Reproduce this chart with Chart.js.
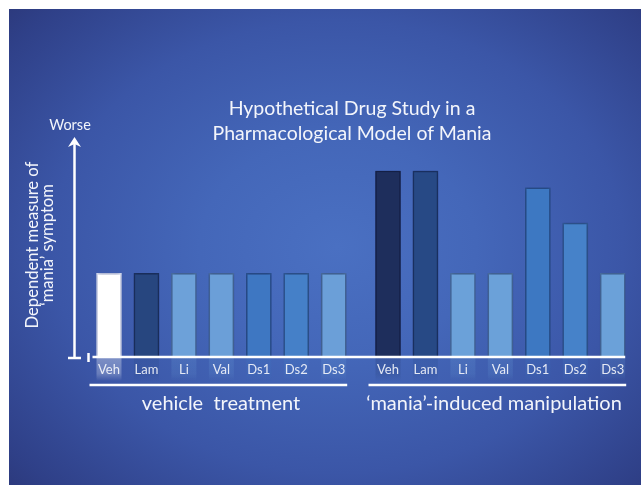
<!DOCTYPE html>
<html>
<head>
<meta charset="utf-8">
<script src="https://cdn.jsdelivr.net/npm/chart.js@4"></script>
<style>
  html, body { margin: 0; padding: 0; background: #ffffff; }
  body { width: 641px; height: 485px; position: relative; overflow: hidden; font-family: Lato, "Open Sans", sans-serif; }
  #slide {
    position: absolute; left: 9px; top: 9px; width: 632px; height: 476px;
    background: radial-gradient(ellipse 78% 82% at 52% 50%, #4a70c2 0%, #4467b9 28%, #3b56a7 58%, #2f4088 84%, #28316e 100%);
  }
  #chart { position: absolute; left: 0; top: 0; }
  .txt { position: absolute; color: #f3f5fb; white-space: pre; text-align: center; }
  #title { left: 152px; width: 400px; top: 95px; font-size: 19.5px; line-height: 25px; }
  #worse { left: 40px; width: 60px; top: 117px; font-size: 14.5px; line-height: 16px; }
  #ylab { left: 40px; top: 245px; width: 200px; font-size: 16.6px; line-height: 15px;
          transform: translate(-100px, -15px) rotate(-90deg); transform-origin: 100px 15px; }
  #g1 { left: 121px; width: 200px; top: 391px; font-size: 20px; line-height: 22px; }
  #g2 { left: 344px; width: 300px; top: 391px; font-size: 20px; line-height: 22px; }
</style>
</head>
<body>
<div id="slide"></div>
<canvas id="chart" width="641" height="485"></canvas>
<div class="txt" id="title">Hypothetical Drug Study in a
Pharmacological Model of Mania</div>
<div class="txt" id="worse">Worse</div>
<div class="txt" id="ylab">Dependent measure of
‘mania’ symptom</div>
<div class="txt" id="g1"></div>
<div class="txt" id="g2"></div>
<script>
// Treatments shown in each group
const categories = ['Veh', 'Lam', 'Li', 'Val', 'Ds1', 'Ds2', 'Ds3'];
const groupNames = ['vehicle  treatment', '‘mania’-induced manipulation'];

// Symptom score (arbitrary units, higher = worse)
const vehicleValues = [45, 45, 45, 45, 45, 45, 45];
const maniaValues   = [100, 100, 45, 45, 91, 72, 45];

// Fill colours per treatment
const vehicleColors = ['#ffffff', '#27467f', '#6da1d9', '#6b9fd8', '#3e77c2', '#4580c8', '#6b9fd8'];
const maniaColors   = ['#1e2e5c', '#274985', '#6ba1d9', '#6ba1d9', '#3d78c2', '#4682c9', '#6ba1d9'];

document.getElementById('g1').textContent = groupNames[0];
document.getElementById('g2').textContent = groupNames[1];

// Second group sits a little further right than a single slot
const GROUP_STEP = categories.length + 0.45;
const xPos = (g, i) => i + g * GROUP_STEP;

const allX = [];
const allLabels = [];
[0, 1].forEach(g => categories.forEach((c, i) => { allX.push(xPos(g, i)); allLabels.push(c); }));

function hexToRgb(h) {
  const n = parseInt(h.slice(1), 16);
  return [(n >> 16) & 255, (n >> 8) & 255, n & 255];
}
function rgba(h, a) { const [r, g, b] = hexToRgb(h); return `rgba(${r},${g},${b},${a})`; }
function edge(h) {
  if (h.toLowerCase() === '#ffffff') return 'rgba(235,240,255,0.9)';
  const [r, g, b] = hexToRgb(h);
  return `rgb(${Math.round(r * 0.7)},${Math.round(g * 0.7)},${Math.round(b * 0.75)})`;
}

const decor = {
  id: 'decor',
  beforeDraw(chart) {
    // faint reflections of each bar just below the baseline
    const { ctx, scales: { y } } = chart;
    const base = y.getPixelForValue(0);
    chart.data.datasets.forEach((ds, di) => {
      chart.getDatasetMeta(di).data.forEach((bar, i) => {
        const col = ds.backgroundColor[i];
        const w = bar.width, left = bar.x - w / 2;
        const a = col.toLowerCase() === '#ffffff' ? 0.34 : 0.22;
        const gr = ctx.createLinearGradient(0, base, 0, base + 24);
        gr.addColorStop(0, rgba(col, a));
        gr.addColorStop(0.7, rgba(col, a * 0.7));
        gr.addColorStop(1, rgba(col, 0));
        ctx.fillStyle = gr;
        ctx.fillRect(left, base, w, 24);
      });
    });
  },
  beforeDatasetsDraw(chart) {
    const ctx = chart.ctx;
    ctx.save();
    ctx.shadowColor = 'rgba(12,22,70,0.45)';
    ctx.shadowBlur = 4;
  },
  afterDatasetsDraw(chart) {
    chart.ctx.restore();
  },
  afterDraw(chart) {
    const { ctx, chartArea, scales: { y } } = chart;
    const base = y.getPixelForValue(0);
    const top = y.getPixelForValue(y.max);
    const ax = Math.round(chartArea.left) + 0.5;
    const bars0 = chart.getDatasetMeta(0).data;
    const bars1 = chart.getDatasetMeta(1).data;
    ctx.save();
    ctx.strokeStyle = '#ffffff';
    ctx.fillStyle = '#ffffff';
    ctx.lineWidth = 2.5;
    ctx.lineCap = 'butt';

    // value axis with arrow head
    ctx.beginPath();
    ctx.moveTo(ax, base + 1);
    ctx.lineTo(ax, top + 6);
    ctx.stroke();
    ctx.beginPath();
    ctx.moveTo(ax, top);
    ctx.lineTo(ax + 6.5, top + 10);
    ctx.lineTo(ax, top + 7);
    ctx.lineTo(ax - 6.5, top + 10);
    ctx.closePath();
    ctx.fill();
    ctx.beginPath();
    ctx.moveTo(ax - 6.5, base + 1);
    ctx.lineTo(ax + 6.5, base + 1);
    ctx.stroke();

    // small tick before the baseline
    const firstLeft = bars0[0].x - bars0[0].width / 2;
    ctx.beginPath();
    ctx.moveTo(firstLeft - 8, base - 4);
    ctx.lineTo(firstLeft - 8, base + 5);
    ctx.stroke();

    // baseline
    const last = bars1[bars1.length - 1];
    ctx.beginPath();
    ctx.moveTo(firstLeft - 4, base);
    ctx.lineTo(last.x + last.width / 2, base);
    ctx.stroke();

    // group underlines
    [bars0, bars1].forEach(bars => {
      const a = bars[0], b = bars[bars.length - 1];
      ctx.beginPath();
      ctx.moveTo(a.x - a.width / 2 - 7, base + 28);
      ctx.lineTo(b.x + b.width / 2 + 1, base + 28);
      ctx.stroke();
    });
    ctx.restore();
  }
};

new Chart(document.getElementById('chart'), {
  type: 'bar',
  data: {
    datasets: [
      {
        label: groupNames[0],
        data: vehicleValues.map((v, i) => ({ x: xPos(0, i), y: v })),
        backgroundColor: vehicleColors,
        borderColor: vehicleColors.map(edge)
      },
      {
        label: groupNames[1],
        data: maniaValues.map((v, i) => ({ x: xPos(1, i), y: v })),
        backgroundColor: maniaColors,
        borderColor: maniaColors.map(edge)
      }
    ]
  },
  options: {
    responsive: false,
    animation: false,
    events: [],
    layout: { padding: { left: 73.8, right: 7.7, top: 137, bottom: 102 } },
    datasets: { bar: { barThickness: 25, grouped: false, borderWidth: 1.5, borderSkipped: 'start' } },
    plugins: { legend: { display: false }, tooltip: { enabled: false }, title: { display: false } },
    scales: {
      x: {
        type: 'linear',
        min: -0.94,
        max: 14,
        offset: false,
        grid: { display: false, drawTicks: false },
        border: { display: false },
        afterBuildTicks: s => { s.ticks = allX.map(v => ({ value: v })); },
        ticks: {
          autoSkip: false,
          maxRotation: 0,
          padding: 5.2,
          color: 'rgba(255,255,255,0.86)',
          font: { family: 'Lato', size: 13 },
          callback: (v, i) => allLabels[i]
        }
      },
      y: { display: false, min: 0, max: 118.3 }
    }
  },
  plugins: [decor]
});
</script>
</body>
</html>
